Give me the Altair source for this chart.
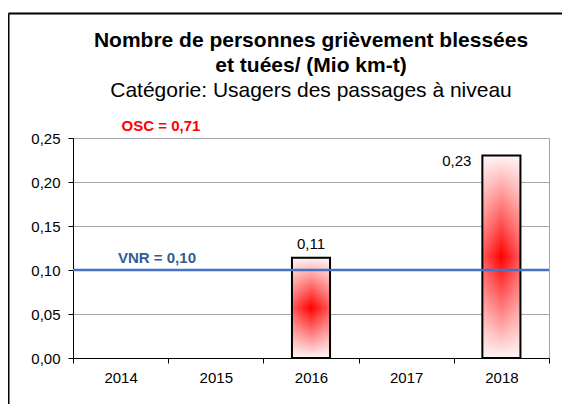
import altair as alt
import pandas as pd

# ---- data ----
years = ["2014", "2015", "2016", "2017", "2018"]
values = [None, None, 0.114, None, 0.23]
vnr_value = 0.10
osc_value = 0.71
y_ticks = [0.0, 0.05, 0.10, 0.15, 0.20, 0.25]

title_lines = ["Nombre de personnes grièvement blessées", "et tuées/ (Mio km-t)"]
subtitle_text = "Catégorie: Usagers des passages à niveau"


def fr(v):
    return f"{v:.2f}".replace(".", ",")


df = pd.DataFrame({"year": years, "value": values})
df["label"] = [fr(v) if v is not None else "" for v in values]
vnr_df = pd.DataFrame({"value": [vnr_value], "vnr_label": ["VNR = " + fr(vnr_value)]})
osc_df = pd.DataFrame({"osc_label": ["OSC = " + fr(osc_value)]})
one_df = pd.DataFrame({"a": [0]})

FONT = "Liberation Sans"

x_enc = alt.X(
    "year:O",
    scale=alt.Scale(type="band", domain=years, paddingInner=0, paddingOuter=0),
    axis=alt.Axis(
        title=None, labelAngle=0, tickBand="extent", tickSize=5, tickColor="black",
        domainColor="black", labelFontSize=15, labelColor="black", labelPadding=7,
        grid=False,
    ),
)
y_axis = alt.Axis(
    title=None, values=y_ticks,
    labelExpr="replace(format(datum.value, '.2f'), '.', ',')",
    tickSize=5, tickColor="black", domainColor="black", gridColor="#a6a6a6",
    labelFontSize=15, labelPadding=8, labelColor="black", grid=True,
)
y_scale = alt.Scale(domain=[0, 0.25], nice=False, zero=True)
y_enc = alt.Y("value:Q", scale=y_scale, axis=y_axis)

base_fill = alt.LinearGradient(
    gradient="linear",
    stops=[
        alt.GradientStop(color="#fff3f3", offset=0),
        alt.GradientStop(color="#ff0000", offset=0.5),
        alt.GradientStop(color="#fff3f3", offset=1),
    ],
    x1=0, x2=0, y1=0, y2=1,
)
side_fill = alt.LinearGradient(
    gradient="linear",
    stops=[
        alt.GradientStop(color="rgba(255,255,255,0.35)", offset=0),
        alt.GradientStop(color="rgba(255,255,255,0)", offset=0.5),
        alt.GradientStop(color="rgba(255,255,255,0.35)", offset=1),
    ],
    x1=0, x2=1, y1=0, y2=0,
)

base = alt.Chart(df)

bars = base.mark_bar(width=alt.RelativeBandSize(0.4), fill=base_fill, strokeWidth=0).encode(
    x=x_enc, y=y_enc
)
bars_overlay = base.mark_bar(
    width=alt.RelativeBandSize(0.4), fill=side_fill, stroke="black", strokeWidth=2
).encode(x=x_enc, y=y_enc)

labels_top = base.transform_filter("datum.value != null && datum.value <= 0.2").mark_text(
    font=FONT, fontSize=15, color="black", baseline="alphabetic", dy=-9
).encode(x=x_enc, y=y_enc, text="label:N")

labels_side = base.transform_filter("datum.value != null && datum.value > 0.2").mark_text(
    font=FONT, fontSize=15, color="black", baseline="alphabetic", align="right", dx=-30, dy=10
).encode(x=x_enc, y=y_enc, text="label:N")

vnr_line = alt.Chart(vnr_df).mark_rule(color="#4472c4", strokeWidth=2.5).encode(y=y_enc)
vnr_text = alt.Chart(vnr_df).mark_text(
    font=FONT, fontSize=15, fontWeight="bold", color="#2f5e93", baseline="alphabetic", dy=-7
).encode(x=alt.value(84), y=y_enc, text="vnr_label:N")

osc_text = alt.Chart(osc_df).mark_text(
    font=FONT, fontSize=15, fontWeight="bold", color="#ff0000", baseline="alphabetic"
).encode(x=alt.value(88), y=alt.value(-7), text="osc_label:N")

frame_left = alt.Chart(one_df).mark_rule(color="black", strokeWidth=2).encode(
    x=alt.value(-64.5), y=alt.value(-124.5), y2=alt.value(400)
)
frame_top = alt.Chart(one_df).mark_rule(color="black", strokeWidth=2).encode(
    x=alt.value(-64.5), x2=alt.value(700), y=alt.value(-124.5)
)

chart = alt.layer(
    bars, bars_overlay, vnr_line, labels_top, labels_side, vnr_text, osc_text,
    frame_left, frame_top,
).properties(
    width=476,
    height=220,
    autosize=alt.AutoSizeParams(type="none"),
    padding={"left": 65, "top": 130, "right": 13, "bottom": 46},
    background="white",
    title=alt.Title(
        text=title_lines,
        subtitle=subtitle_text,
        font=FONT, fontSize=21, fontWeight="bold", color="black", lineHeight=25,
        subtitleFont=FONT, subtitleFontSize=21, subtitleColor="black",
        subtitlePadding=4, anchor="middle", frame="group", offset=-88,
    ),
).configure_view(
    stroke="#a6a6a6", strokeWidth=1
).configure_axis(
    labelFont=FONT
)

chart.save("out.html", embed_options={"renderer": "svg", "actions": False})
